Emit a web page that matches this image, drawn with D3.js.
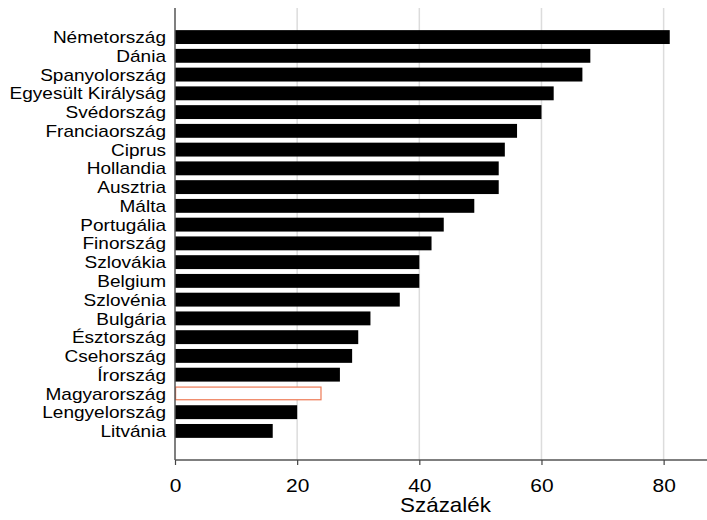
<!DOCTYPE html>
<html>
<head>
<meta charset="utf-8">
<script src="https://cdn.jsdelivr.net/npm/d3@7"></script>
<style>
  html, body { margin: 0; padding: 0; background: #fff; }
  svg { display: block; }
  text { font-family: "Liberation Sans", Arial, sans-serif; fill: #000; }
</style>
</head>
<body>
<svg id="chart" width="707" height="520"></svg>
<script>
const countries = ["Németország","Dánia","Spanyolország","Egyesült Királyság","Svédország","Franciaország","Ciprus","Hollandia","Ausztria","Málta","Portugália","Finország","Szlovákia","Belgium","Szlovénia","Bulgária","Észtország","Csehország","Írország","Magyarország","Lengyelország","Litvánia"];
const values = [81, 68, 66.7, 62, 60, 56, 54, 53, 53, 49, 44, 42, 40, 40, 36.8, 32, 30, 29, 27, 24, 20, 16];
const highlight = ["Magyarország"];
const xTicks = [0, 20, 40, 60, 80];
const xTitle = "Százalék";

(function () {
const svg = d3.select("#chart");
const pLeft = 175, pRight = 707, pTop = 8, pBottom = 460;
const sx = 1.12; // horizontal stretch of the lettering

const x = d3.scaleLinear().domain([0, 87.1]).range([pLeft, pRight]);
const y = d3.scaleBand().domain(countries).range([pTop, pBottom]).paddingInner(0.26).paddingOuter(1.18);

// grid lines
svg.append("g").selectAll("line").data(xTicks.filter(d => d > 0)).join("line")
  .attr("x1", d => x(d)).attr("x2", d => x(d))
  .attr("y1", pTop).attr("y2", pBottom)
  .attr("stroke", "#dcdcdc").attr("stroke-width", 1.5);

// bars
const rows = countries.map((c, i) => ({c, v: values[i]}));
const isHi = d => highlight.includes(d.c);
svg.append("g").selectAll("rect").data(rows).join("rect")
  .attr("x", d => isHi(d) ? x(0) + 0.6 : x(0))
  .attr("y", d => isHi(d) ? y(d.c) + 0.6 : y(d.c))
  .attr("width", d => isHi(d) ? x(d.v) - x(0) - 1.2 : x(d.v) - x(0))
  .attr("height", d => isHi(d) ? y.bandwidth() - 1.2 : y.bandwidth())
  .attr("fill", d => isHi(d) ? "#ffffff" : "#000000")
  .attr("stroke", d => isHi(d) ? "#ee7a55" : "none")
  .attr("stroke-width", 1.2);

// x axis
const xAxis = d3.axisBottom(x).tickValues(xTicks).tickSize(5).tickPadding(13).tickFormat(d3.format("d"));
const gx = svg.append("g").attr("transform", `translate(0,${pBottom})`).call(xAxis);
gx.select(".domain").attr("d", `M${pLeft},0H${pRight}`).attr("stroke", "#555").attr("stroke-width", 1.5);
gx.selectAll(".tick line").attr("stroke", "#444").attr("stroke-width", 1.2);
gx.selectAll(".tick text").attr("font-size", "18.7px").attr("fill", "#000")
  .attr("font-family", "'Liberation Sans', Arial, sans-serif")
  .attr("y", 18.4).attr("transform", `scale(${sx},1)`);

// y axis
const yAxis = d3.axisLeft(y).tickSize(0).tickPadding(9);
const gy = svg.append("g").attr("transform", `translate(${pLeft},0)`).call(yAxis);
gy.select(".domain").attr("d", `M0,${pTop}V${pBottom}`).attr("stroke", "#555").attr("stroke-width", 1.5);
gy.selectAll(".tick text").attr("font-size", "17px").attr("fill", "#000")
  .attr("font-family", "'Liberation Sans', Arial, sans-serif")
  .attr("x", -9 / sx).attr("dy", "0.36em").attr("transform", `scale(${sx},1)`);

// axis title
svg.append("text")
  .attr("transform", `translate(${(pLeft + pRight) / 2 + 4.5},511.7) scale(${sx},1)`)
  .attr("text-anchor", "middle").attr("font-size", "20px").text(xTitle);
})();
</script>
</body>
</html>
